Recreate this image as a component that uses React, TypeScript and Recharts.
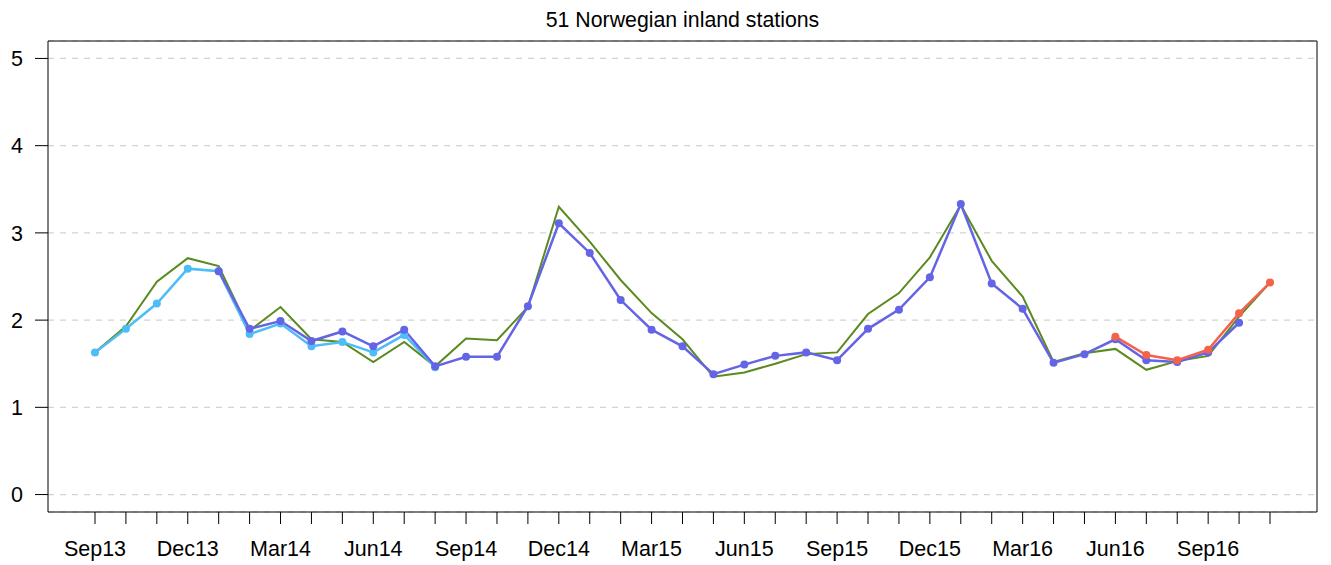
import {
  LineChart,
  Line,
  XAxis,
  YAxis,
  CartesianGrid,
  ReferenceArea,
} from 'recharts';

const months = [
  'Sep13', 'Oct13', 'Nov13', 'Dec13',
  'Jan14', 'Feb14', 'Mar14', 'Apr14', 'May14', 'Jun14', 'Jul14', 'Aug14', 'Sep14', 'Oct14', 'Nov14', 'Dec14',
  'Jan15', 'Feb15', 'Mar15', 'Apr15', 'May15', 'Jun15', 'Jul15', 'Aug15', 'Sep15', 'Oct15', 'Nov15', 'Dec15',
  'Jan16', 'Feb16', 'Mar16', 'Apr16', 'May16', 'Jun16', 'Jul16', 'Aug16', 'Sep16', 'Oct16', 'Nov16',
];

const tickLabels = [
  'Sep13', 'Dec13', 'Mar14', 'Jun14', 'Sep14', 'Dec14', 'Mar15',
  'Jun15', 'Sep15', 'Dec15', 'Mar16', 'Jun16', 'Sep16',
];

const yTicks = [0, 1, 2, 3, 4, 5];

// green reference line, whole period
const green = [
  1.63, 1.93, 2.44, 2.71, 2.62, 1.88, 2.15, 1.78, 1.75, 1.52,
  1.75, 1.47, 1.79, 1.77, 2.15, 3.30, 2.90, 2.46, 2.08, 1.78,
  1.35, 1.40, 1.50, 1.61, 1.63, 2.07, 2.31, 2.72, 3.32, 2.68,
  2.27, 1.52, 1.62, 1.67, 1.43, 1.53, 1.59, 2.04, 2.43,
];

const lightBlue = [
  1.63, 1.90, 2.19, 2.59, 2.56, 1.84, 1.96, 1.70, 1.75, 1.63,
  1.83, 1.46, null, null, null, null, null, null, null, null,
  null, null, null, null, null, null, null, null, null, null,
  null, null, null, null, null, null, null, null, null,
];

const purple = [
  null, null, null, null, 2.56, 1.90, 1.99, 1.76, 1.87, 1.70,
  1.89, 1.47, 1.58, 1.58, 2.16, 3.11, 2.77, 2.23, 1.89, 1.70,
  1.38, 1.49, 1.59, 1.63, 1.54, 1.90, 2.12, 2.49, 3.33, 2.42,
  2.13, 1.51, 1.61, 1.78, 1.54, 1.52, 1.63, 1.97, null,
];

const red = [
  null, null, null, null, null, null, null, null, null, null,
  null, null, null, null, null, null, null, null, null, null,
  null, null, null, null, null, null, null, null, null, null,
  null, null, null, 1.81, 1.60, 1.54, 1.66, 2.08, 2.43,
];

const data = months.map((m, i) => ({
  i,
  month: m,
  green: green[i],
  lightBlue: lightBlue[i],
  purple: purple[i],
  red: red[i],
}));

const X_DOMAIN: [number, number] = [-1.52, 39.52];
const Y_DOMAIN: [number, number] = [-0.2, 5.2];
const FONT = '"Liberation Sans", Arial, Helvetica, sans-serif';

export default function App() {
  return (
    <div style={{ position: 'absolute', left: 0, top: 0, width: 1331, height: 565, background: '#fff', fontFamily: FONT }}>
      <div
        style={{
          position: 'absolute',
          left: 48,
          width: 1269,
          top: 8,
          textAlign: 'center',
          fontSize: 21.3,
          lineHeight: '24px',
          color: '#000',
        }}
      >
        51 Norwegian inland stations
      </div>
      <LineChart
        width={1331}
        height={565}
        data={data}
        margin={{ top: 41, right: 14, bottom: 0, left: 0 }}
      >
        <CartesianGrid
          vertical={false}
          stroke="#d3d3d3"
          strokeDasharray="6 6"
          strokeWidth={1.2}
        />
        <XAxis
          dataKey="i"
          type="number"
          domain={X_DOMAIN}
          allowDataOverflow
          ticks={months.map((_, i) => i)}
          interval={0}
          tickFormatter={(v: number) => (tickLabels.includes(months[v]) ? months[v] : '')}
          axisLine={false}
          tickLine={{ stroke: '#000' }}
          tickSize={12}
          tickMargin={17}
          height={53}
          tick={{ fill: '#000', fontSize: 21.5, fontFamily: FONT }}
        />
        <YAxis
          type="number"
          domain={Y_DOMAIN}
          allowDataOverflow
          ticks={yTicks}
          interval={0}
          axisLine={false}
          tickLine={{ stroke: '#000' }}
          tickSize={13}
          tickMargin={12}
          width={48}
          tick={{ fill: '#000', fontSize: 21.5, fontFamily: FONT }}
        />
        <ReferenceArea
          x1={X_DOMAIN[0]}
          x2={X_DOMAIN[1]}
          y1={Y_DOMAIN[0]}
          y2={Y_DOMAIN[1]}
          fill="none"
          fillOpacity={0}
          stroke="#000"
          strokeWidth={1}
          ifOverflow="visible"
        />
        <Line
          dataKey="green"
          stroke="#5b8a1e"
          strokeWidth={2}
          dot={false}
          isAnimationActive={false}
        />
        <Line
          dataKey="lightBlue"
          stroke="#4dbdf5"
          strokeWidth={2.5}
          dot={{ r: 4, fill: '#4dbdf5', stroke: '#4dbdf5', strokeWidth: 0 }}
          isAnimationActive={false}
        />
        <Line
          dataKey="purple"
          stroke="#6464e6"
          strokeWidth={2.5}
          dot={{ r: 4, fill: '#6464e6', stroke: '#6464e6', strokeWidth: 0 }}
          isAnimationActive={false}
        />
        <Line
          dataKey="red"
          stroke="#f4624a"
          strokeWidth={2.5}
          dot={{ r: 4, fill: '#f4624a', stroke: '#f4624a', strokeWidth: 0 }}
          isAnimationActive={false}
        />
      </LineChart>
    </div>
  );
}
